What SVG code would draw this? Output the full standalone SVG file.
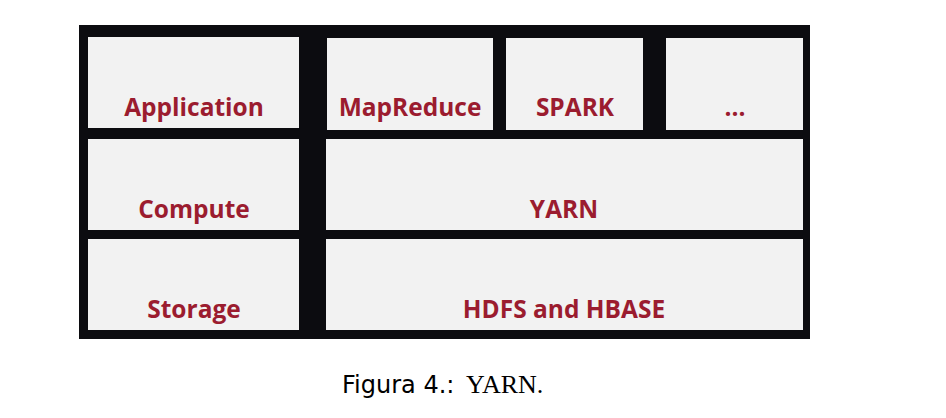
<svg xmlns="http://www.w3.org/2000/svg" width="946" height="418" viewBox="0 0 946 418">
<style>
.box{fill:#f2f2f2}
.lbl{font-family:"Open Sans","Liberation Sans",sans-serif;font-weight:bold;font-size:24.5px;fill:#9b1c2f;text-anchor:middle}
</style>
<rect width="946" height="418" fill="#ffffff"/>
<rect x="79" y="25" width="731" height="314" fill="#0c0c10"/>
<g id="application"><rect class="box" x="88" y="37" width="211" height="91"/><text class="lbl" x="194" y="116">Application</text></g>
<g id="compute"><rect class="box" x="88" y="139" width="211" height="91"/><text class="lbl" x="194" y="218">Compute</text></g>
<g id="storage"><rect class="box" x="88" y="239" width="211" height="91"/><text class="lbl" x="194" y="318">Storage</text></g>
<g id="mapreduce"><rect class="box" x="327" y="38" width="166" height="92"/><text class="lbl" x="410" y="116">MapReduce</text></g>
<g id="spark"><rect class="box" x="506" y="38" width="137" height="92"/><text class="lbl" x="575" y="116">SPARK</text></g>
<g id="more"><rect class="box" x="666" y="38" width="137" height="92"/><text class="lbl" x="735" y="116">...</text></g>
<g id="yarn"><rect class="box" x="326" y="139" width="477" height="91"/><text class="lbl" x="564" y="218">YARN</text></g>
<g id="hdfs"><rect class="box" x="326" y="239" width="477" height="91"/><text class="lbl" x="564" y="318">HDFS and HBASE</text></g>
<g id="connectors"></g>
<text x="342" y="393" font-family="DejaVu Sans,sans-serif" font-size="24" fill="#000">Figura 4.: <tspan dx="4" font-family="Liberation Serif,serif" font-size="26">YARN.</tspan></text>
</svg>
